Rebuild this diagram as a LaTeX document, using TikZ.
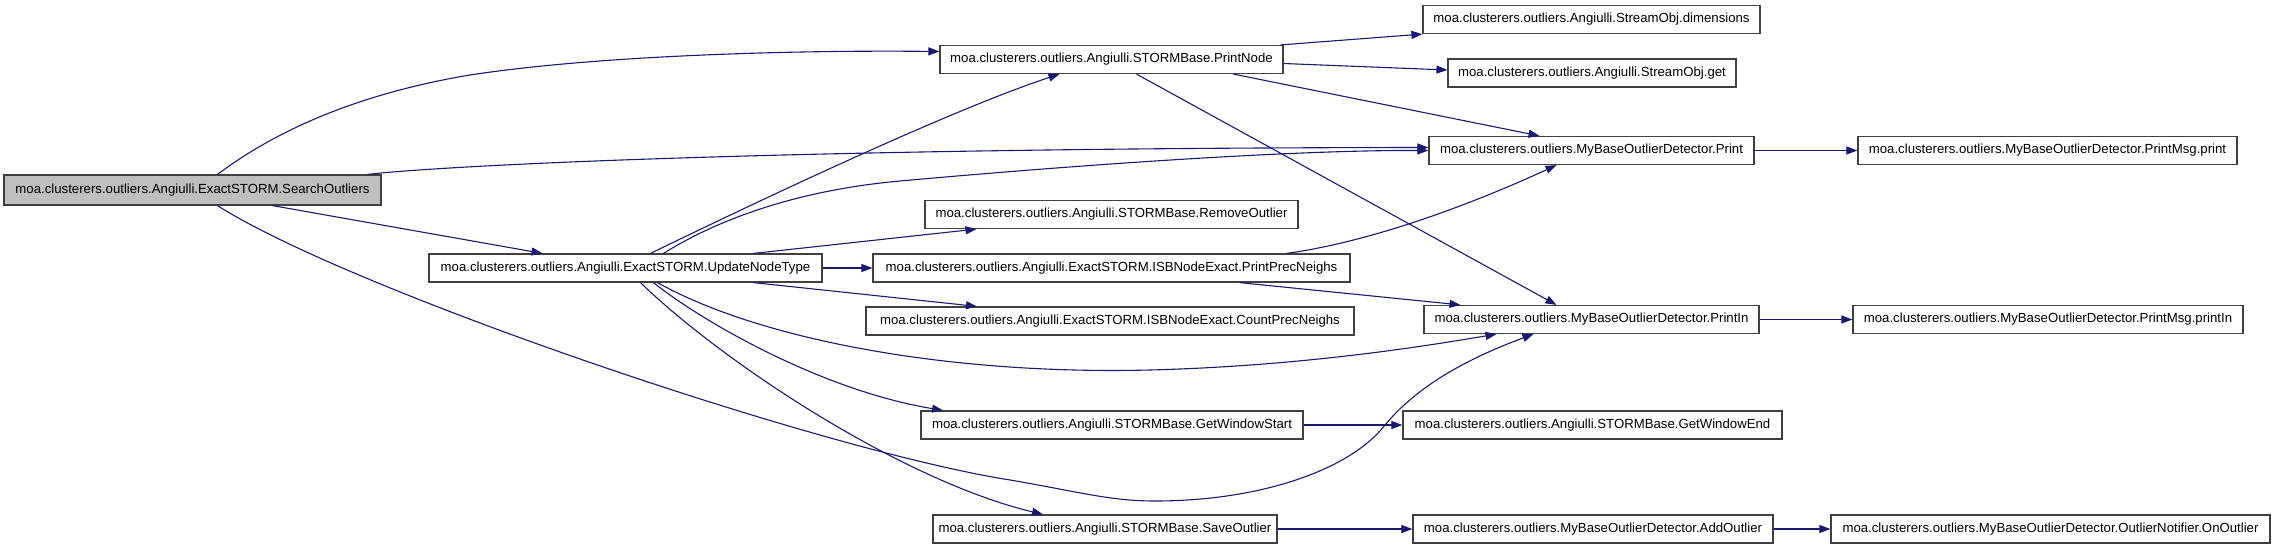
\documentclass[tikz,border=0pt]{standalone}
\usepackage{fontspec}
\setmainfont{Liberation Sans}
\usetikzlibrary{arrows.meta}
\definecolor{edgeblue}{RGB}{25,25,112}
\definecolor{boxline}{RGB}{64,64,64}
\definecolor{rootfill}{RGB}{191,191,191}
\begin{document}
\begin{tikzpicture}[x=1pt,y=-1pt,
  fn/.style={draw=boxline,line width=1.2pt,fill=white,inner sep=0pt,minimum height=28pt,
    font=\fontsize{13.2}{16}\selectfont,anchor=center},
  rootfn/.style={fn,fill=rootfill,minimum height=30pt},
  edge/.style={draw=edgeblue,line width=1.1pt,-{Triangle[length=11pt,width=8pt]}}]
\useasboundingbox (0,0) rectangle (2272,549);
% nodes
\node[rootfn,minimum width=377pt] (so) at (192.5,190) {moa.clusterers.outliers.Angiulli.ExactSTORM.SearchOutliers};
\node[fn,minimum width=393pt] (unt) at (625.5,268) {moa.clusterers.outliers.Angiulli.ExactSTORM.UpdateNodeType};
\node[fn,minimum width=343pt] (pn) at (1111.5,59.5) {moa.clusterers.outliers.Angiulli.STORMBase.PrintNode};
\node[fn,minimum width=337pt] (dim) at (1591.5,19.5) {moa.clusterers.outliers.Angiulli.StreamObj.dimensions};
\node[fn,minimum width=288pt] (get) at (1592,73) {moa.clusterers.outliers.Angiulli.StreamObj.get};
\node[fn,minimum width=325pt] (pr) at (1591.5,150.5) {moa.clusterers.outliers.MyBaseOutlierDetector.Print};
\node[fn,minimum width=379pt] (pmp) at (2047.5,150.5) {moa.clusterers.outliers.MyBaseOutlierDetector.PrintMsg.print};
\node[fn,minimum width=373pt] (ro) at (1111.5,214.5) {moa.clusterers.outliers.Angiulli.STORMBase.RemoveOutlier};
\node[fn,minimum width=477pt] (ppn) at (1111.5,268) {moa.clusterers.outliers.Angiulli.ExactSTORM.ISBNodeExact.PrintPrecNeighs};
\node[fn,minimum width=488pt] (cpn) at (1110,321) {moa.clusterers.outliers.Angiulli.ExactSTORM.ISBNodeExact.CountPrecNeighs};
\node[fn,minimum width=335pt] (pln) at (1591.5,319.5) {moa.clusterers.outliers.MyBaseOutlierDetector.PrintIn};
\node[fn,minimum width=390pt] (pmpl) at (2048,319.5) {moa.clusterers.outliers.MyBaseOutlierDetector.PrintMsg.printIn};
\node[fn,minimum width=382pt] (gws) at (1112,425) {moa.clusterers.outliers.Angiulli.STORMBase.GetWindowStart};
\node[fn,minimum width=379pt] (gwe) at (1592.5,425) {moa.clusterers.outliers.Angiulli.STORMBase.GetWindowEnd};
\node[fn,minimum width=344pt] (sv) at (1105,529) {moa.clusterers.outliers.Angiulli.STORMBase.SaveOutlier};
\node[fn,minimum width=360pt] (ao) at (1593,529) {moa.clusterers.outliers.MyBaseOutlierDetector.AddOutlier};
\node[fn,minimum width=439pt] (on) at (2050.5,529) {moa.clusterers.outliers.MyBaseOutlierDetector.OutlierNotifier.OnOutlier};
% edges from SearchOutliers
\draw[edge] ([xshift=25pt]so.north) .. controls (290,120) and (380,90) .. (470,75) .. controls (600,55) and (800,50) .. ([yshift=8pt]pn.west);
\draw[edge] ([xshift=175pt]so.north) .. controls (450,165) and (800,148) .. ([yshift=3pt]pr.west);
\draw[edge] ([xshift=80pt]so.south) -- ([xshift=-83pt]unt.north);
\draw[edge] ([xshift=25pt]so.south) .. controls (350,290) and (820,450) .. (1010,480) .. controls (1080,492) and (1110,501) .. (1155,501) .. controls (1260,501) and (1350,470) .. (1385,425) .. controls (1410,395) and (1450,365) .. ([xshift=-58pt]pln.south);
% edges from UpdateNodeType
\draw[edge] ([xshift=25pt]unt.north) .. controls (750,205) and (950,110) .. ([xshift=-52pt]pn.south);
\draw[edge] ([xshift=38pt]unt.north) .. controls (720,218) and (800,190) .. (900,181) .. controls (1100,163) and (1300,150) .. (pr.west);
\draw[edge] ([xshift=128pt]unt.north) -- ([xshift=-135pt]ro.south);
\draw[edge] (unt.east) -- (ppn.west);
\draw[edge] ([xshift=128pt]unt.south) -- ([xshift=-133pt]cpn.north);
\draw[edge] ([xshift=32pt]unt.south) .. controls (760,340) and (950,375) .. (1150,370) .. controls (1300,366) and (1420,347) .. ([xshift=-95pt]pln.south);
\draw[edge] ([xshift=28pt]unt.south) .. controls (700,320) and (820,390) .. ([xshift=-169pt]gws.north);
\draw[edge] ([xshift=15pt]unt.south) .. controls (720,360) and (900,480) .. ([xshift=-62pt]sv.north);
% edges from PrintNode
\draw[edge] ([xshift=-3pt]pn.north east) -- (dim.south west);
\draw[edge] ([yshift=-4pt]pn.east) -- ([yshift=3pt]get.west);
\draw[edge] ([xshift=122pt]pn.south) -- ([xshift=-52pt]pr.north);
\draw[edge] ([xshift=25pt]pn.south) -- ([xshift=-35pt]pln.north);
% others
\draw[edge] (pr.east) -- (pmp.west);
\draw[edge] ([xshift=175pt]ppn.north) .. controls (1370,242) and (1470,205) .. ([xshift=-35pt]pr.south);
\draw[edge] ([xshift=128pt]ppn.south) -- ([xshift=-131pt]pln.north);
\draw[edge] (pln.east) -- (pmpl.west);
\draw[edge] (gws.east) -- (gwe.west);
\draw[edge] (sv.east) -- (ao.west);
\draw[edge] (ao.east) -- (on.west);
\end{tikzpicture}
\end{document}
